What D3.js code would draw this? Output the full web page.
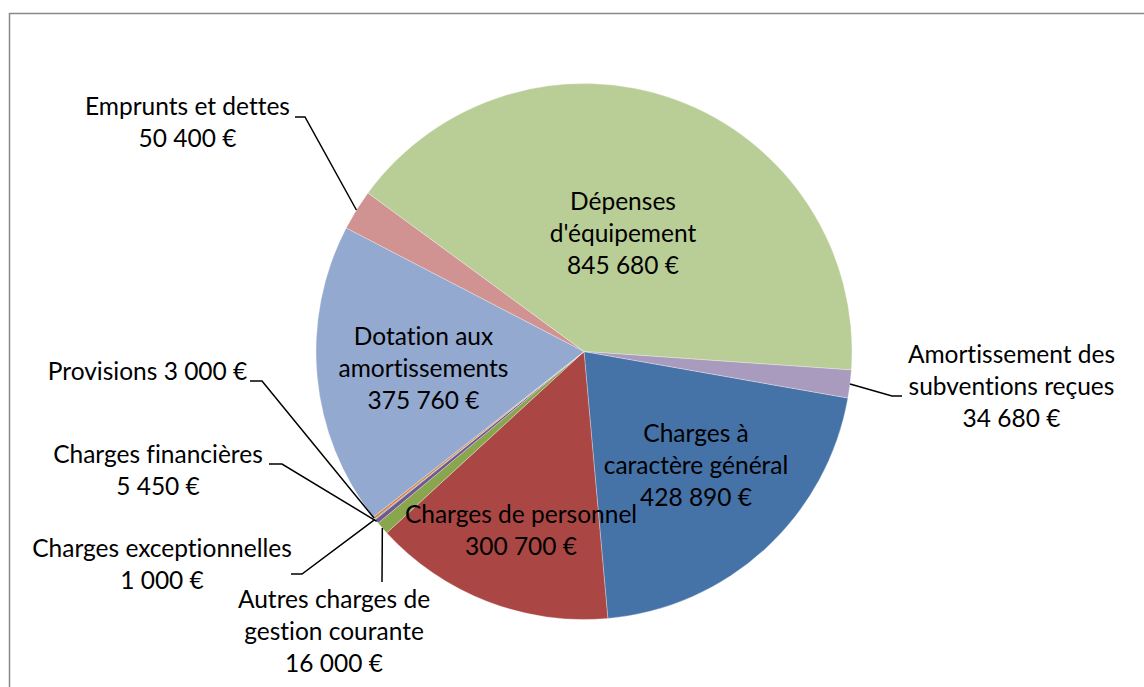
<!DOCTYPE html>
<html>
<head>
<meta charset="utf-8">
<script src="https://cdn.jsdelivr.net/npm/d3@7"></script>
<style>
  body { margin: 0; background: #fff; }
  svg text { font-family: Lato, "Open Sans", sans-serif; fill: #000; font-variant-ligatures: none; }
</style>
</head>
<body>
<script>
// data, in the order of the spreadsheet
const categories = [
  "Charges à caractère général",
  "Charges de personnel",
  "Autres charges de gestion courante",
  "Charges financières",
  "Charges exceptionnelles",
  "Provisions",
  "Dotation aux amortissements",
  "Emprunts et dettes",
  "Dépenses d'équipement",
  "Amortissement des subventions reçues"
]
const values = [428890, 300700, 16000, 5450, 1000, 3000, 375760, 50400, 845680, 34680]
// how the labels are wrapped in the chart
const labelLines = [
  ["Charges à", "caractère général"],
  ["Charges de personnel"],
  ["Autres charges de", "gestion courante"],
  ["Charges financières"],
  ["Charges exceptionnelles"],
  ["Provisions"],
  ["Dotation aux", "amortissements"],
  ["Emprunts et dettes"],
  ["Dépenses", "d'équipement"],
  ["Amortissement des", "subventions reçues"]
]
const colors = ["#4572A7", "#AA4643", "#89A54E", "#71588F", "#4198AF",
                "#DB843D", "#93A9CF", "#D19392", "#B9CD96", "#A99BBD"]

// layout
const width = 1144, height = 687
const cx = 584, cy = 351.5, radius = 268
const lineGap = 32
// label anchor: centre x, first baseline y
const labelPos = [
  [696, 442], [521, 523], [334, 608], [158, 463], [162, 557],
  [147.5, 380], [423.5, 345], [187.5, 115], [623, 210], [1011.5, 363]
]
// leader lines: label end, elbow (null = no leader)
const leaders = [
  null, null,
  [[382, 582], [382, 582]],
  [[269, 464], [282, 464]],
  [[291, 574], [302, 574]],
  [[250, 381], [262, 381]],
  null,
  [[295, 117], [305, 117]],
  null,
  [[902, 396], [892, 396]]
]

const fr = d3.formatLocale({decimal: ",", thousands: " ", grouping: [3], currency: ["", " €"]})
const money = fr.format("$,.0f")

const svg = d3.select("body").append("svg")
  .attr("width", width)
  .attr("height", height)

// outer frame of the chart object
svg.append("rect")
  .attr("x", 9.5).attr("y", 13.5)
  .attr("width", 1300).attr("height", 900)
  .attr("fill", "none")
  .attr("stroke", "#898989")
  .attr("stroke-width", 1.5)

const pie = d3.pie().sort(null)
  .startAngle(100 * Math.PI / 180)
  .endAngle(100 * Math.PI / 180 + 2 * Math.PI)
const arcs = pie(values)

const arc = d3.arc().innerRadius(0).outerRadius(radius)
const edge = d3.arc().innerRadius(radius).outerRadius(radius)

const g = svg.append("g").attr("transform", `translate(${cx},${cy})`)

g.selectAll("path.slice")
  .data(arcs)
  .enter().append("path")
  .attr("class", "slice")
  .attr("d", arc)
  .attr("fill", (d, i) => colors[i])
  .attr("stroke", "#fff")
  .attr("stroke-opacity", 0.5)
  .attr("stroke-width", 0.6)

// leader lines
const line = d3.line()
arcs.forEach((d, i) => {
  if (!leaders[i]) return
  const p = edge.centroid(d)
  const pts = [leaders[i][0], leaders[i][1], [p[0] + cx, p[1] + cy]]
  svg.append("path")
    .attr("d", line(pts))
    .attr("fill", "none")
    .attr("stroke", "#000")
    .attr("stroke-width", 1.5)
})

// font size fitted so the text widths follow the original
const probe = svg.append("text").style("font-size", "100px").text("Emprunts et dettes")
const fontSize = 100 * 205 / probe.node().getComputedTextLength()
probe.remove()

arcs.forEach((d, i) => {
  let lines = labelLines[i].slice()
  if (categories[i] === "Provisions") lines = [lines[0] + " " + money(values[i])]
  else lines.push(money(values[i]))
  const t = svg.append("text")
    .attr("text-anchor", "middle")
    .style("font-size", fontSize + "px")
  lines.forEach((s, k) => {
    t.append("tspan")
      .attr("x", labelPos[i][0])
      .attr("y", labelPos[i][1] + k * lineGap)
      .text(s)
  })
})
</script>
</body>
</html>
